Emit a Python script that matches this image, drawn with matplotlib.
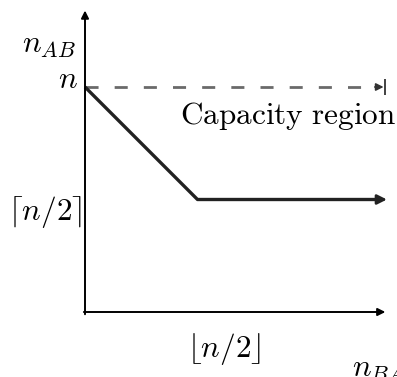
import matplotlib.pyplot as plt

plt.rcParams["mathtext.fontset"] = "cm"
plt.rcParams["font.family"] = "serif"
plt.rcParams["font.serif"] = ["DejaVu Serif"]

# capacity boundary, in units of n
region_x = [0.0, 0.5, 1.342]
region_y = [1.0, 0.5, 0.5]
# dashed upper bound n_AB = n
bound_x = [0.0, 1.333]
bound_y = [1.0, 1.0]
tick_labels = {"n": r"$n$", "ceil": r"$\lceil n/2\rceil$", "floor": r"$\lfloor n/2\rfloor$"}

fig = plt.figure(figsize=(3.97, 3.77), dpi=100)
ax = fig.add_axes([0, 0, 1, 1])
# pixel origin at (85, 312), n spans 225 px
ax.set_xlim(-85 / 225, (397 - 85) / 225)
ax.set_ylim(-(377 - 312) / 225, 312 / 225)
ax.set_axis_off()

axis_arrow = dict(arrowstyle="-|>", lw=1.4, color="black", mutation_scale=11,
                  shrinkA=0, shrinkB=0)
ax.annotate("", xy=(1.335, 0), xytext=(-0.005, 0), arrowprops=axis_arrow)
ax.annotate("", xy=(0, 1.34), xytext=(0, -0.01), arrowprops=axis_arrow)

# upper bound
ax.plot([bound_x[0], bound_x[1] - 0.05], bound_y, lw=2.0, color="#6a6a6a",
        dashes=(4.7, 5.8))
ax.annotate("", xy=(bound_x[1] - 0.006, 1.0), xytext=(bound_x[1] - 0.045, 1.0),
            arrowprops=dict(arrowstyle="-|>", lw=1.2, color="#333333",
                            mutation_scale=11, shrinkA=0, shrinkB=0))
ax.plot([bound_x[1]], [1.0], marker="|", ms=12, mew=1.3, color="#333333")

# region boundary
ax.plot(region_x[:-1] + [region_x[-1] - 0.03], region_y[:-1] + [region_y[-1]],
        lw=2.4, color="#222222", solid_capstyle="butt")
ax.annotate("", xy=(region_x[-1], region_y[-1]), xytext=(region_x[-1] - 0.05, region_y[-1]),
            arrowprops=dict(arrowstyle="-|>", lw=2.0, color="#222222",
                            mutation_scale=14, shrinkA=0, shrinkB=0))

fs = 22.5
ax.text(-0.031, 0.995, tick_labels["n"], fontsize=fs, ha="right", va="baseline")
ax.text(-0.013, 0.445, tick_labels["ceil"], fontsize=fs, ha="right", va="center")
ax.text(0.618, -0.164, tick_labels["floor"], fontsize=fs, ha="center", va="center")
ax.text(-0.28, 1.19, r"$n_{AB}$", fontsize=fs, ha="left", va="center")
ax.text(1.187, -0.249, r"$n_{BA}$", fontsize=fs, ha="left", va="center")
ax.text(0.42, 0.87, r"$\mathrm{Capacity\ region}$", fontsize=fs, ha="left", va="center")

fig.savefig("out.png", dpi=100)
